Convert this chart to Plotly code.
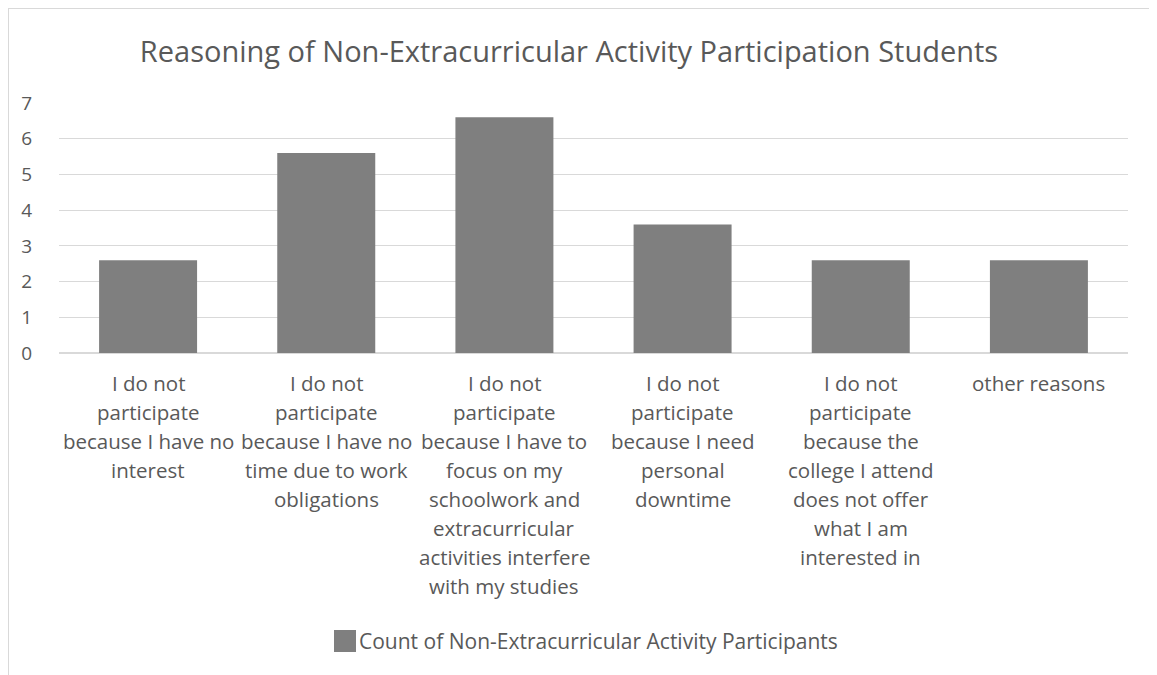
import plotly.graph_objects as go

categories = [
    'I do not<br>participate<br>because I have no<br>interest',
    'I do not<br>participate<br>because I have no<br>time due to work<br>obligations',
    'I do not<br>participate<br>because I have to<br>focus on my<br>schoolwork and<br>extracurricular<br>activities interfere<br>with my studies',
    'I do not<br>participate<br>because I need<br>personal<br>downtime',
    'I do not<br>participate<br>because the<br>college I attend<br>does not offer<br>what I am<br>interested in',
    'other reasons',
]
counts = [2.6, 5.6, 6.6, 3.6, 2.6, 2.6]
y_ticks = [0, 1, 2, 3, 4, 5, 6, 7]

series_name = 'Count of Non-Extracurricular Activity Participants'
title_text = 'Reasoning of Non-Extracurricular Activity Participation Students'

TEXT = '#595959'
GRID = '#d9d9d9'
BAR = '#7f7f7f'
FONT = 'Open Sans, Lato, sans-serif'

# the page puts the figure 8px in from the top-left corner
OFF = 8
W, H = 1157 - OFF, 675 - OFF
# plot area in page pixels: x 59..1128, y 103..353
L, T = 59 - OFF, 103 - OFF
R, B = W - (1128 - OFF), H - (353 - OFF)
pw, ph = W - L - R, H - T - B


def px(x):
    # page pixel -> paper x
    return (x - OFF - L) / pw


def py(y):
    # page pixel -> paper y
    return (H - B - (y - OFF)) / ph


fig = go.Figure(go.Bar(
    x=categories, y=counts, marker=dict(color=BAR, line=dict(width=0)),
    width=0.55, name=series_name, showlegend=False,
))

fig.update_layout(
    width=W, height=H,
    margin=dict(l=L, r=R, t=T, b=B, autoexpand=False),
    paper_bgcolor='white', plot_bgcolor='white',
    font=dict(family=FONT, color=TEXT, size=20),
    title=dict(text=title_text, x=(569 - OFF) / W, xref='container', xanchor='center',
               y=1 - (52 - OFF) / H, yref='container', yanchor='middle',
               font=dict(size=29, color=TEXT, family=FONT)),
    xaxis=dict(showgrid=False, zeroline=False, showline=False, ticks='',
               showticklabels=False),
    yaxis=dict(range=[0, 7], tickvals=y_ticks, showgrid=True, gridcolor=GRID,
               gridwidth=1.3, zeroline=True, zerolinecolor=GRID, zerolinewidth=1.5,
               showline=False, ticks='', ticklabelstandoff=26, tickfont=dict(size=19)),
    bargap=0.45,
)

# category labels, one line at a time so the line spacing matches the original
for cat in categories:
    for i, line in enumerate(cat.split('<br>')):
        fig.add_annotation(text=line, x=cat, xref='x', y=0, yref='paper',
                           yanchor='middle', yshift=-30 - 29 * i, showarrow=False,
                           font=dict(size=20.5, color=TEXT))

# legend drawn by hand so the swatch matches the original size
fig.add_shape(type='rect', xref='paper', yref='paper',
              x0=px(334), x1=px(356), y0=py(652), y1=py(630),
              fillcolor=BAR, line=dict(width=0))
fig.add_annotation(text=series_name, xref='paper', yref='paper',
                   x=px(357), y=py(641), xanchor='left', yanchor='middle',
                   showarrow=False, font=dict(size=21, color=TEXT))

# chart area border (top and left, as cropped in the original)
for x0, y0, x1, y1 in [(8, 8, 1157, 8), (8, 8, 8, 675)]:
    fig.add_shape(type='line', xref='paper', yref='paper',
                  x0=px(x0), y0=py(y0), x1=px(x1), y1=py(y1),
                  line=dict(color=GRID, width=2))

fig.write_html('out.html')
